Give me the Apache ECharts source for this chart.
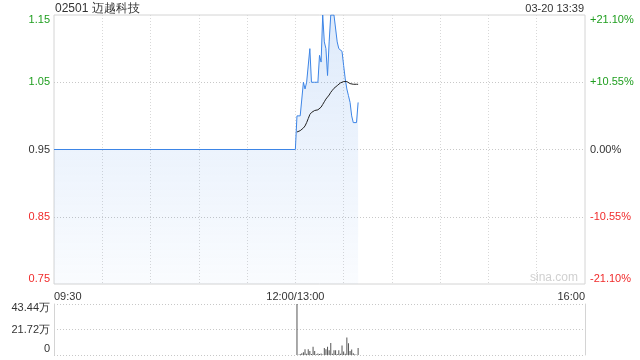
<!DOCTYPE html>
<html>
<head>
<meta charset="utf-8">
<script src="https://cdn.jsdelivr.net/npm/echarts/dist/echarts.min.js"></script>
<style>
html,body{margin:0;padding:0;background:#fff;}
#chart{width:640px;height:360px;}
</style>
</head>
<body>
<div id="chart"></div>
<script>
// ---- data ----
const titleText = '02501 迈越科技';
const stampText = '03-20 13:39';
const watermarkText = 'sina.com';
const prevClose = 0.95;

const priceTimes = ['09:30','12:00',
  '13:01','13:02','13:03','13:04','13:05','13:06','13:07','13:08','13:09','13:10',
  '13:11','13:12','13:13','13:14','13:15','13:16','13:17','13:18','13:19','13:20',
  '13:21','13:22','13:23','13:24','13:25','13:26','13:27','13:28','13:29','13:30',
  '13:31','13:32','13:33','13:34','13:35','13:36','13:37','13:38','13:39'];
const priceValues = [0.95, 0.95,
  1.00, 1.00, 1.00, 1.00, 1.05, 1.04, 1.05, 1.05, 1.10, 1.05,
  1.05, 1.05, 1.05, 1.05, 1.09, 1.08, 1.15, 1.11, 1.10, 1.06,
  1.11, 1.15, 1.15, 1.15, 1.15, 1.11, 1.10, 1.10, 1.096, 1.075,
  1.055, 1.04, 1.03, 1.02, 1.00, 0.99, 0.99, 0.99, 1.02];

const avgTimes = priceTimes.slice(2);
const avgValues = [
  0.976, 0.977, 0.978, 0.979, 0.982, 0.985, 0.990, 0.996, 1.002, 1.005,
  1.007, 1.008, 1.008, 1.009, 1.011, 1.013, 1.017, 1.021, 1.025, 1.028,
  1.031, 1.035, 1.038, 1.041, 1.043, 1.045, 1.047, 1.049, 1.050, 1.051,
  1.052, 1.051, 1.049, 1.048, 1.048, 1.047, 1.047, 1.047, 1.047];

const volTimes = priceTimes.slice(2);
// volume, 万 shares
const volValues = [43.44, 0.3, 0.8, 1.5, 2.4, 5.0, 1.0, 5.0, 3.5, 0.8,
  7.1, 3.5, 0.6, 1.2, 0.8, 1.2, 0.5, 5.9, 5.0, 7.1,
  4.1, 10.3, 1.0, 4.1, 4.1, 0.8, 4.1, 1.0, 8.0, 3.0,
  1.0, 14.8, 10.0, 3.5, 4.7, 1.5, 0.6, 0.3, 5.9];

const priceTicks = ['0.75', '0.85', '0.95', '1.05', '1.15'];
const pctTicks = ['-21.10%', '-10.55%', '0.00%', '+10.55%', '+21.10%'];
const volTicks = ['0', '21.72万', '43.44万'];
const xTicks = ['09:30', '12:00/13:00', '16:00'];

// ---- helpers ----
function toIdx(t) {
  const p = t.split('/')[0].split(':');
  const mins = (+p[0]) * 60 + (+p[1]);
  return mins <= 720 ? mins - 570 : 150 + (mins - 780);
}
const pricePairs = priceTimes.map((t, i) => [toIdx(t), priceValues[i]]);
const avgPairs = avgTimes.map((t, i) => [toIdx(t), avgValues[i]]);
const volPairs = volTimes.map((t, i) => [toIdx(t), volValues[i]]);
const xTickIdx = xTicks.map(toIdx);
const volMax = parseFloat(volTicks[2]);

const GREEN = '#1f9e1f', RED = '#f02b2b', GRAY = '#333';
const FONT = '"Liberation Sans", Arial, sans-serif';
const styleNames = ['dnB', 'dn', 'flat', 'up', 'upT'];
const yRich = {
  dnB: {color: RED, fontSize: 11, fontFamily: FONT, padding: [0, 0, 11, 0]},
  dn: {color: RED, fontSize: 11, fontFamily: FONT},
  flat: {color: GRAY, fontSize: 11, fontFamily: FONT},
  up: {color: GREEN, fontSize: 11, fontFamily: FONT},
  upT: {color: GREEN, fontSize: 11, fontFamily: FONT, padding: [10, 0, 0, 0]}
};
const vRich = {
  b: {color: GRAY, fontSize: 11, fontFamily: FONT, padding: [0, 0, 12, 0]},
  m: {color: GRAY, fontSize: 11, fontFamily: FONT},
  t: {color: GRAY, fontSize: 11, fontFamily: FONT, padding: [8, 0, 0, 0]}
};

const chart = echarts.init(document.getElementById('chart'), null, {renderer: 'canvas'});
const option = {
  animation: false,
  textStyle: {fontFamily: FONT},
  graphic: [
    {type: 'text', left: 55, top: 3, style: {text: titleText, font: '12px ' + FONT, fill: '#333'}},
    {type: 'text', right: 56, top: 3, style: {text: stampText, font: '11px ' + FONT, fill: '#333'}},
    {type: 'text', right: 62, top: 272, style: {text: watermarkText, font: '12px ' + FONT, fill: '#d0d0d0'}}
  ],
  grid: [
    {left: 54, right: 55, top: 15, height: 269, show: true, borderColor: '#d4d4d4', borderWidth: 1, backgroundColor: 'transparent'},
    {left: 54, right: 55, top: 304, height: 51, show: false}
  ],
  xAxis: [
    {
      type: 'value', gridIndex: 0, min: 0, max: 330, interval: 30,
      axisLine: {show: false}, axisTick: {show: false},
      splitLine: {show: true, showMinLine: false, showMaxLine: false, lineStyle: {color: '#d8d8d8', type: [1, 2], width: 1}},
      axisLabel: {
        margin: 7, fontSize: 11, color: GRAY, fontFamily: FONT,
        alignMinLabel: 'left', alignMaxLabel: 'right',
        showMinLabel: true, showMaxLabel: true,
        formatter: v => { const k = xTickIdx.indexOf(Math.round(v)); return k >= 0 ? xTicks[k] : ''; }
      }
    },
    {
      type: 'value', gridIndex: 1, min: 0, max: 330, interval: 30,
      axisLine: {show: false}, axisTick: {show: false}, axisLabel: {show: false}, splitLine: {show: false}
    }
  ],
  yAxis: [
    {
      type: 'value', gridIndex: 0, min: 0.75, max: 1.15, interval: 0.05, position: 'left',
      axisLine: {show: false}, axisTick: {show: false}, splitLine: {show: false},
      axisLabel: {
        margin: 4, showMinLabel: true, showMaxLabel: true, rich: yRich,
        formatter: v => { const s = v.toFixed(2); const k = priceTicks.indexOf(s); return k >= 0 ? '{' + styleNames[k] + '|' + s + '}' : ''; }
      }
    },
    {
      type: 'value', gridIndex: 0, min: 0, max: 4, interval: 1, position: 'right',
      axisLine: {show: false}, axisTick: {show: false},
      splitLine: {show: true, showMinLine: false, showMaxLine: false, lineStyle: {color: '#c8c8c8', type: [1, 2], width: 1}},
      axisLabel: {
        margin: 5, showMinLabel: true, showMaxLabel: true, rich: yRich,
        formatter: v => { const k = Math.round(v); return '{' + styleNames[k] + '|' + pctTicks[k] + '}'; }
      }
    },
    {
      type: 'value', gridIndex: 1, min: 0, max: volMax, interval: volMax / 2, position: 'left',
      axisLine: {show: true, lineStyle: {color: '#d4d4d4'}}, axisTick: {show: false},
      splitLine: {show: true, lineStyle: {color: '#c8c8c8', type: [1, 2], width: 1}},
      axisLabel: {
        margin: 4, showMinLabel: true, showMaxLabel: true, rich: vRich,
        formatter: v => { const k = Math.round(v / (volMax / 2)); return '{' + ['b', 'm', 't'][k] + '|' + volTicks[k] + '}'; }
      }
    },
    {
      type: 'value', gridIndex: 1, min: 0, max: volMax, position: 'right',
      axisLine: {show: true, lineStyle: {color: '#d4d4d4'}}, axisTick: {show: false},
      axisLabel: {show: false}, splitLine: {show: false}
    }
  ],
  series: [
    {
      type: 'line', xAxisIndex: 0, yAxisIndex: 0, data: pricePairs,
      showSymbol: false, symbol: 'none', z: 3,
      lineStyle: {color: '#3d85e6', width: 1},
      areaStyle: {
        origin: 'start',
        color: new echarts.graphic.LinearGradient(0, 0, 0, 1, [
          {offset: 0, color: 'rgba(61,133,230,0.24)'},
          {offset: 1, color: 'rgba(61,133,230,0.04)'}
        ])
      }
    },
    {
      type: 'line', xAxisIndex: 0, yAxisIndex: 0, data: avgPairs,
      showSymbol: false, symbol: 'none', z: 4,
      lineStyle: {color: '#222', width: 1}
    },
    {
      type: 'bar', xAxisIndex: 1, yAxisIndex: 2, data: volPairs,
      barWidth: 1, itemStyle: {color: '#555'}
    }
  ]
};
chart.setOption(option);
</script>
</body>
</html>
